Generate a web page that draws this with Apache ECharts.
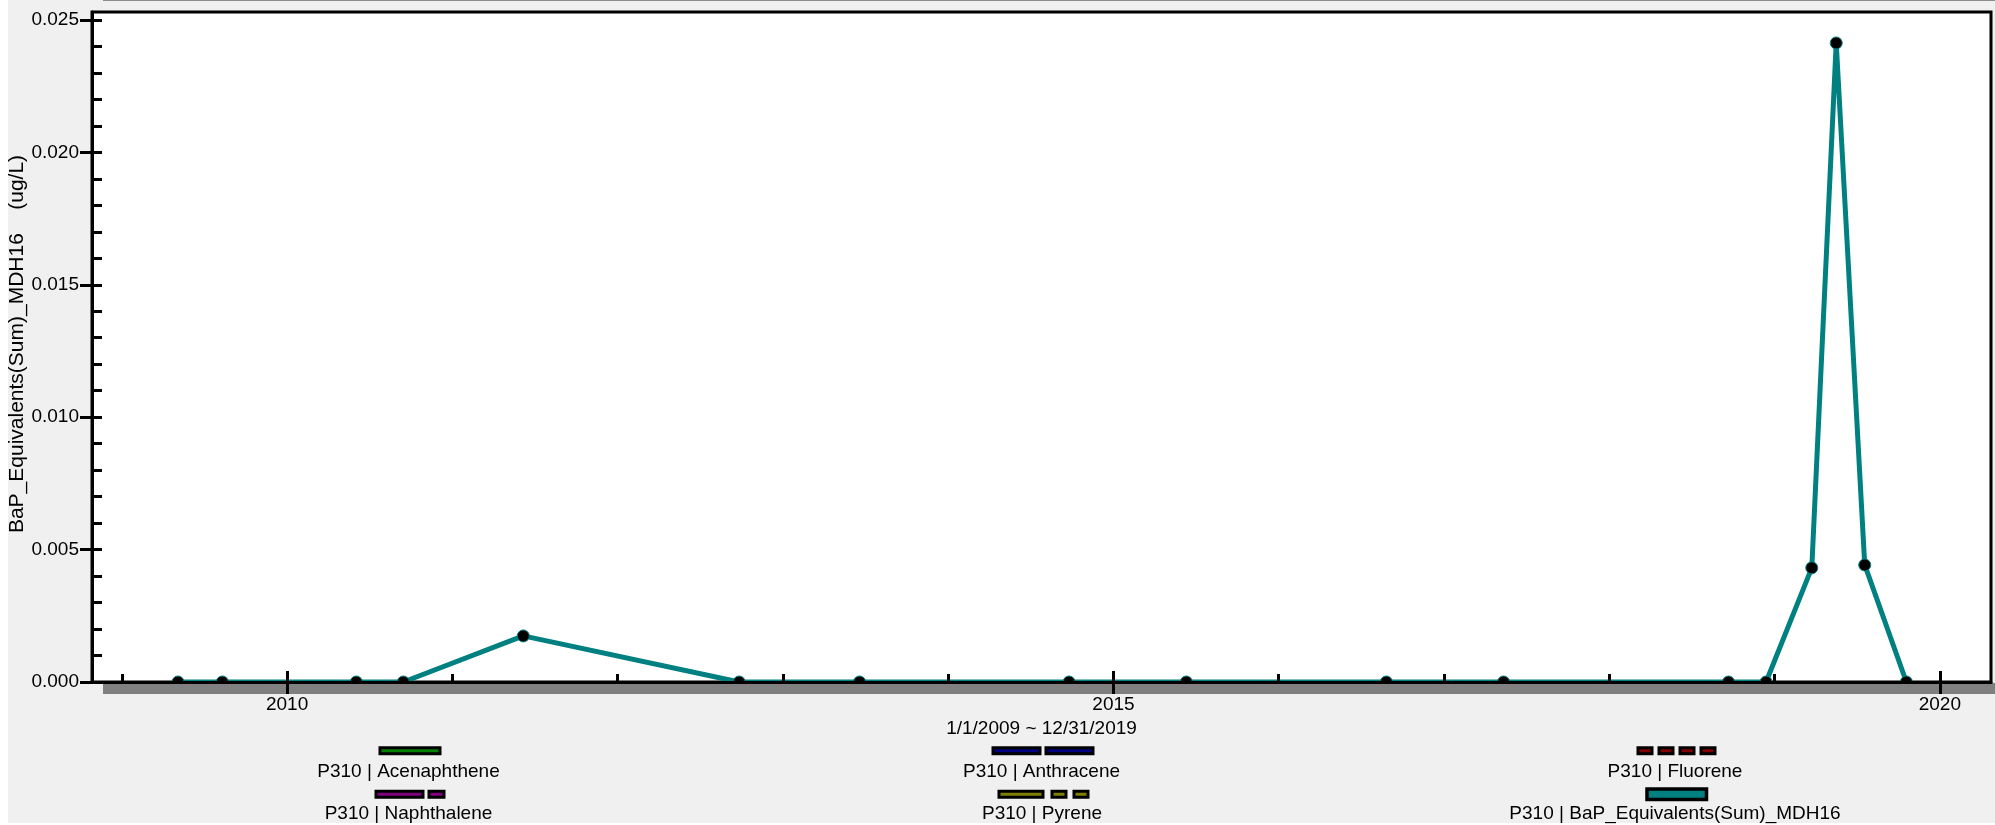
<!DOCTYPE html>
<html>
<head>
<meta charset="utf-8">
<script src="https://cdn.jsdelivr.net/npm/echarts@6/dist/echarts.min.js"></script>
<style>
  html, body { margin: 0; padding: 0; background: #ffffff; }
  #panel { position: absolute; left: 8px; top: 0; width: 1987px; height: 823px; background: #f0f0f0; }
  #rule { position: absolute; left: 103px; top: 0; width: 1892px; height: 1px; background: #8c8c8c; }
  #chart { position: absolute; left: 0; top: 0; width: 1995px; height: 825px; }
</style>
</head>
<body>
<div id="panel"></div>
<div id="rule"></div>
<div id="chart"></div>
<script>
// ---- data ----
const seriesNames = [
  'P310 | Acenaphthene',
  'P310 | Naphthalene',
  'P310 | Anthracene',
  'P310 | Pyrene',
  'P310 | Fluorene',
  'P310 | BaP_Equivalents(Sum)_MDH16'
];
const seriesColors = ['#008000', '#800080', '#000080', '#808000', '#800000', '#008080'];

// BaP equivalents sample dates and values (ug/L)
const bapDates = [
  '2009-05-05', '2009-08-11', '2010-06-03', '2010-09-15', '2011-06-07',
  '2012-09-26', '2013-06-19', '2014-09-25', '2015-06-11', '2016-08-26',
  '2017-05-12', '2018-09-21', '2018-12-13', '2019-03-24', '2019-05-17',
  '2019-07-19', '2019-10-19'
];
const bapValues = [
  0, 0, 0, 0, 0.00174,
  0, 0, 0, 0, 0,
  0, 0, 0, 0.00431, 0.02413,
  0.00442, 0
];

const yMajorTicks = [0, 0.005, 0.010, 0.015, 0.020, 0.025];
const yMinorTicks = [0.001, 0.002, 0.003, 0.004, 0.006, 0.007, 0.008, 0.009,
  0.011, 0.012, 0.013, 0.014, 0.016, 0.017, 0.018, 0.019,
  0.021, 0.022, 0.023, 0.024];
const xMajorYears = [2010, 2015, 2020];
const xMinorYears = [2009, 2011, 2012, 2013, 2014, 2016, 2017, 2018, 2019];

const yAxisTitle = 'BaP_Equivalents(Sum)_MDH16    (ug/L)';
const dateRangeText = '1/1/2009 ~ 12/31/2019';

// ---- layout and style ----
const FONT = "'Liberation Sans', Arial, sans-serif";
const FS = 19;
const TITLE_FS = 21;
const DAY = 86400000;
const toTime = s => Date.UTC(+s.slice(0, 4), +s.slice(5, 7) - 1, +s.slice(8, 10));
const yearStart = y => Date.UTC(y, 0, 1);
const xMin = toTime('2008-10-27');
const xMax = toTime('2020-04-23');
const yMax = 0.0253;

// legend icon dash segments (in px) and placement per series
const legendLayout = [
  { segs: [[0, 60]], h: 6, bw: 3, cx: 408.5, cy: 749.3, ty: 771.5 },
  { segs: [[0, 47], [53, 68]], h: 6, bw: 3, cx: 408.5, cy: 792.8, ty: 814 },
  { segs: [[0, 47], [53, 100]], h: 6, bw: 3, cx: 1041.5, cy: 749.3, ty: 771.5 },
  { segs: [[0, 44], [53, 67], [75, 89]], h: 6, bw: 3, cx: 1042, cy: 792.8, ty: 814 },
  { segs: [[0, 14], [21, 35], [42, 56], [63, 77]], h: 6, bw: 3, cx: 1675, cy: 749.3, ty: 771.5 },
  { segs: [[0, 59.5]], h: 10.5, bw: 3.5, cx: 1675, cy: 792.5, ty: 814 }
];

function segPath(segs, h) {
  return 'path://' + segs.map(s => `M${s[0]} 0L${s[1]} 0L${s[1]} ${h}L${s[0]} ${h}Z`).join('');
}

const legends = seriesNames.map((name, i) => {
  const L = legendLayout[i];
  const w = L.segs[L.segs.length - 1][1];
  return {
    data: [name],
    left: L.cx - w / 2,
    top: L.cy - L.h / 2,
    padding: 0,
    itemGap: 0,
    itemWidth: w,
    itemHeight: L.h,
    icon: segPath(L.segs, L.h),
    selectedMode: false,
    formatter: () => '',
    textStyle: { fontSize: 1, lineHeight: 1 },
    itemStyle: { color: seriesColors[i], borderColor: '#000000', borderWidth: L.bw }
  };
});

const legendTexts = seriesNames.map((name, i) => {
  const L = legendLayout[i];
  return {
    type: 'text', x: L.cx, y: L.ty, z: 100,
    style: { text: name, fill: '#000', font: `${FS}px ${FONT}`, align: 'center', verticalAlign: 'middle' }
  };
});

const chart = echarts.init(document.getElementById('chart'), null, { renderer: 'canvas' });

const baseX = {
  type: 'value', min: xMin, max: xMax, gridIndex: 0, position: 'bottom', offset: 0,
  splitLine: { show: false }, axisPointer: { show: false }
};
const baseY = {
  type: 'value', min: 0, max: yMax, gridIndex: 0, position: 'left', offset: 0,
  splitLine: { show: false }
};

const option = {
  animation: false,
  backgroundColor: 'transparent',
  textStyle: { fontFamily: FONT },
  grid: {
    left: 92, top: 12, right: 4, bottom: 143,
    show: true, backgroundColor: '#ffffff', borderColor: '#000000', borderWidth: 3
  },
  legend: legends,
  xAxis: [
    Object.assign({}, baseX, {
      z: 60,
      axisLine: { show: true, lineStyle: { color: '#000', width: 3 } },
      axisTick: { show: true, inside: false, length: 12, lineStyle: { color: '#000', width: 3 },
        customValues: xMajorYears.map(yearStart) },
      axisLabel: { show: true, margin: 13, color: '#000', fontSize: FS, fontFamily: FONT,
        customValues: xMajorYears.map(yearStart),
        formatter: v => String(new Date(v + DAY / 2).getUTCFullYear()) },
      name: dateRangeText, nameLocation: 'middle', nameGap: 37,
      nameTextStyle: { color: '#000', fontSize: FS, fontFamily: FONT }
    }),
    Object.assign({}, baseX, {
      z: 60,
      axisLine: { show: false },
      axisTick: { show: true, inside: true, length: 8, lineStyle: { color: '#000', width: 3 },
        customValues: xMinorYears.map(yearStart) },
      axisLabel: { show: false }
    }),
    Object.assign({}, baseX, {
      z: 60,
      axisLine: { show: false },
      axisTick: { show: true, inside: true, length: 11, lineStyle: { color: '#000', width: 3 },
        customValues: xMajorYears.map(yearStart) },
      axisLabel: { show: false }
    })
  ],
  yAxis: [
    Object.assign({}, baseY, {
      z: 60,
      axisLine: { show: true, lineStyle: { color: '#000', width: 3 } },
      axisTick: { show: true, inside: false, length: 12, lineStyle: { color: '#000', width: 3 },
        customValues: yMajorTicks },
      axisLabel: { show: true, margin: 13, color: '#000', fontSize: FS, fontFamily: FONT,
        customValues: yMajorTicks, formatter: v => v.toFixed(3) }
    }),
    Object.assign({}, baseY, {
      z: 60,
      axisLine: { show: false },
      axisTick: { show: true, inside: true, length: 10, lineStyle: { color: '#000', width: 3 },
        customValues: yMajorTicks.concat(yMinorTicks) },
      axisLabel: { show: false }
    })
  ],
  series: seriesNames.map((name, i) => {
    const isBaP = i === seriesNames.length - 1;
    return {
      name: name,
      type: 'line',
      xAxisIndex: 0,
      yAxisIndex: 0,
      z: 2,
      data: isBaP ? bapDates.map((d, k) => [toTime(d), bapValues[k]]) : [],
      showSymbol: true,
      showAllSymbol: true,
      symbol: 'circle',
      symbolSize: 12,
      lineStyle: { color: seriesColors[i], width: 5 },
      itemStyle: { color: '#000000', borderColor: seriesColors[i], borderWidth: 1 },
      emphasis: { disabled: true },
      silent: true
    };
  }),
  graphic: [
    // drop shadow strip under the plot frame
    { type: 'rect', z: 50, shape: { x: 103, y: 683, width: 1892, height: 11 }, style: { fill: '#808080' } },
    {
      type: 'text', x: 17.5, y: 344, rotation: Math.PI / 2, z: 100,
      style: { text: yAxisTitle, fill: '#000', font: `${TITLE_FS}px ${FONT}`, align: 'center', verticalAlign: 'middle' }
    }
  ].concat(legendTexts)
};

chart.setOption(option);
</script>
</body>
</html>
